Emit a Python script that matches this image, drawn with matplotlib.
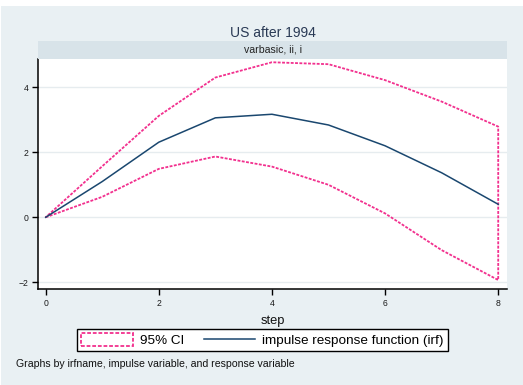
import matplotlib
matplotlib.use("Agg")
import matplotlib.pyplot as plt
from matplotlib.patches import Rectangle

plt.rcParams['font.family'] = ['Liberation Sans', 'DejaVu Sans']

# impulse response of varbasic, ii -> i, US after 1994
steps = [0, 1, 2, 3, 4, 5, 6, 7, 8]
irf = [0.0, 1.10, 2.31, 3.06, 3.17, 2.84, 2.20, 1.37, 0.40]
ci_upper = [0.0, 1.57, 3.12, 4.30, 4.77, 4.71, 4.22, 3.56, 2.79]
ci_lower = [0.0, 0.63, 1.49, 1.87, 1.56, 1.00, 0.12, -1.01, -1.93]
x_ticks = [0, 2, 4, 6, 8]
y_ticks = [-2, 0, 2, 4]

BG = '#e9f0f3'
STRIP = '#d8e3e9'
PINK = '#f2308e'
NAVY = '#1a476f'
TEXT = '#2a3a55'

W, H = 523, 385
fig = plt.figure(figsize=(W / 100, H / 100), dpi=100, facecolor=BG)

# thin white margin along the top and left edge
fig.patches.append(Rectangle((0, 1 - 6 / H), 1, 6 / H, transform=fig.transFigure,
                             facecolor='white', edgecolor='none', zorder=0))
fig.patches.append(Rectangle((0, 0), 1 / W, 1, transform=fig.transFigure,
                             facecolor='white', edgecolor='none', zorder=0))

left, right = 38.3 / W, 506.7 / W
bottom, top = 1 - 289.3 / H, 1 - 59 / H
ax = fig.add_axes([left, bottom, right - left, top - bottom], facecolor='white')

ax.fill_between(steps, ci_lower, ci_upper, facecolor='none', edgecolor=PINK,
                linestyle=(0, (1.6, 0.8)), linewidth=1.3, label='95% CI', zorder=3)
ax.plot(steps, irf, color=NAVY, linewidth=1.1, label='impulse response function (irf)', zorder=4)

ax.set_xlim(-0.13, 8.15)
ax.set_ylim(-2.215, 4.87)
ax.set_xticks(x_ticks)
ax.set_yticks(y_ticks)
ax.tick_params(axis='both', direction='out', length=4, width=1, color='black',
               labelsize=6.2, labelcolor='#1a1a1a', pad=3)
ax.yaxis.grid(True, color='#e6ecef', linewidth=1)
ax.set_axisbelow(True)
for s in ('top', 'right'):
    ax.spines[s].set_visible(False)
for s in ('left', 'bottom'):
    ax.spines[s].set_linewidth(1.1)
    ax.spines[s].set_color('black')

ax.set_xlabel('step', fontsize=9.3, color='#111111', labelpad=5)

# subgraph strip with its label
fig.patches.append(Rectangle((left, top), right - left, 18 / H, transform=fig.transFigure,
                             facecolor=STRIP, edgecolor='none', zorder=1))
fig.text((left + right) / 2, 1 - 50 / H, 'varbasic, ii, i', ha='center', va='center',
         fontsize=7.6, color='#222222')
fig.text((left + right) / 2, 1 - 33 / H, 'US after 1994', ha='center', va='center',
         fontsize=10, color=TEXT)

leg = fig.legend(loc='center', bbox_to_anchor=(262.7 / W, 1 - 340 / H), ncol=2,
                 fontsize=9.7, frameon=True, fancybox=False, edgecolor='black',
                 framealpha=1, facecolor='white', handlelength=3.8, handleheight=1.1,
                 handletextpad=0.55, columnspacing=1.45, borderpad=0.3)
leg.get_frame().set_linewidth(1.0)

fig.text(16 / W, 1 - 364 / H, 'Graphs by irfname, impulse variable, and response variable',
         ha='left', va='center', fontsize=7.6, color='#111111')

fig.savefig('out.png', dpi=100, facecolor=BG)
